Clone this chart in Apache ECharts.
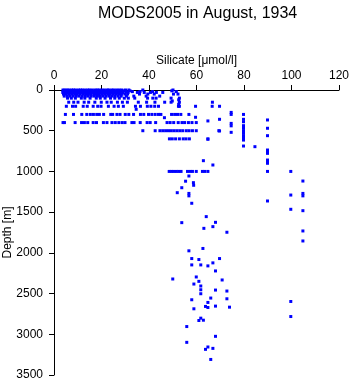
<!DOCTYPE html>
<html>
<head>
<meta charset="utf-8">
<script src="https://cdn.jsdelivr.net/npm/echarts@6/dist/echarts.min.js"></script>
<style>
  html, body { margin: 0; padding: 0; background: #fff; }
  #main { width: 351px; height: 384px; }
</style>
</head>
<body>
<div id="main"></div>
<script>
// silicate values
const si0 = [3.8, 4.6, 5.5, 6.3, 7.4, 8.2, 9.1, 10.3, 11.2, 12.0, 13.1, 14.2, 15.0, 16.1, 17.3, 18.2, 19.0, 20.1, 21.2, 22.4, 23.1, 24.3, 25.2, 26.4, 27.5, 28.6, 30.1, 31.5, 37.4, 50.1];
const si10 = [3.9, 5.1, 6.0, 7.2, 8.5, 9.6, 10.8, 11.7, 12.9, 13.8, 15.3, 16.4, 17.6, 18.8, 19.7, 21.0, 22.2, 23.5, 24.6, 25.8, 26.9, 28.1, 29.3, 32.0, 49.6];
const si20 = [4.2, 5.3, 6.6, 7.8, 8.8, 10.0, 11.1, 12.4, 13.5, 14.7, 15.8, 16.9, 18.1, 19.4, 20.5, 21.7, 22.8, 24.0, 25.1, 26.2, 27.3, 28.9, 30.4, 33.0, 36.2, 41.5, 51.5];
const si30 = [3.7, 4.9, 6.1, 7.0, 8.0, 9.3, 10.5, 11.6, 12.6, 13.9, 15.1, 16.2, 17.4, 18.5, 19.6, 20.8, 21.9, 23.0, 24.2, 25.5, 26.6, 27.8, 29.0, 31.2, 35.1, 38.0, 40.6, 43.1, 45.8];
const si50 = [4.0, 5.2, 6.4, 7.5, 8.7, 9.8, 11.0, 12.2, 13.3, 14.5, 15.6, 16.8, 17.9, 19.1, 20.3, 21.4, 22.6, 23.7, 24.9, 26.0, 27.2, 28.4, 29.8, 31.0, 36.0, 39.5, 42.2, 50.3, 52.2];
const si75 = [4.3, 5.6, 6.8, 8.1, 9.4, 10.6, 11.9, 13.2, 14.4, 15.7, 17.0, 18.3, 19.5, 20.7, 22.0, 23.3, 24.5, 25.7, 27.0, 28.3, 30.5, 33.6, 38.8, 44.5];
const si100 = [5.7, 7.3, 9.0, 11.5, 13.0, 15.2, 17.8, 19.5, 21.5, 23.8, 25.6, 27.5, 29.6, 31.3, 34.0, 39.4, 41.6, 43.0, 49.3, 52.8];
const si150 = [6.2, 8.3, 10.1, 12.7, 14.6, 17.2, 19.9, 22.3, 24.1, 26.7, 28.8, 30.9, 35.5, 39.0, 42.5, 46.6, 49.3, 52.8, 66.7];
const si200 = [5.2, 7.8, 9.1, 12.3, 14.0, 16.5, 18.4, 19.8, 22.9, 25.3, 27.1, 29.2, 34.3, 36.4, 39.3, 40.8, 42.4, 44.0, 52.4, 52.8, 59.6, 66.6, 69.7];
const si300 = [4.8, 8.2, 11.7, 13.8, 15.3, 16.6, 18.0, 19.1, 20.9, 23.9, 24.7, 26.5, 27.8, 30.0, 31.5, 33.5, 36.4, 37.8, 39.8, 41.2, 42.6, 44.0, 45.0, 49.5, 50.8, 52.0, 53.4, 56.8, 79.8];
const si400 = [3.8, 4.4, 8.9, 11.6, 12.8, 14.2, 16.5, 17.9, 20.8, 22.3, 24.4, 25.8, 27.3, 28.7, 29.9, 32.8, 33.7, 36.3, 39.2, 40.5, 42.8, 47.6, 48.9, 50.4, 52.3, 53.9, 55.0, 56.6, 58.1, 59.9];
const si500 = [37.4, 42.6, 44.6, 45.8, 47.0, 48.2, 49.4, 50.6, 51.8, 53.0, 54.2, 55.7, 56.9, 58.3, 59.9, 69.4];
const si600 = [48.6, 49.8, 51.2, 52.8, 54.4, 55.6, 57.0, 64.8];
const si1000 = [48.5, 49.5, 50.5, 51.5, 52.5, 53.5, 56.2, 57.3, 58.3, 59.9, 62.5, 63.5, 64.8, 89.9, 99.7];

const rowDepths = [0, 10, 20, 30, 50, 75, 100, 150, 200, 300, 400, 500, 600, 1000];
const rowValues = [si0, si10, si20, si30, si50, si75, si100, si150, si200, si300, si400, si500, si600, si1000];

// other casts: [silicate, depth]
const otherPoints = [
  [49.8, 135], [52.5, 120], [52.5, 175], [34.6, 237], [46.5, 340], [59.6, 335], [69.7, 360], [64.8, 380],
  [74.6, 275], [74.6, 300], [79.8, 360], [79.8, 390], [74.6, 410], [74.6, 440], [89.9, 368],
  [79.8, 438], [79.8, 470], [79.8, 500], [79.8, 530], [79.8, 560], [79.8, 590], [79.8, 615],
  [69.7, 503], [74.6, 520], [89.9, 470], [89.9, 561], [79.8, 688], [84.6, 696],
  [89.9, 737], [89.9, 758], [89.9, 778], [89.9, 860], [89.9, 880], [89.9, 900], [89.9, 1363],
  [62.9, 868], [66.9, 921], [64.8, 605],
  [56.8, 1056], [55.4, 1120], [58.7, 1138], [58.8, 1170], [53.8, 1200], [51.9, 1261],
  [56.8, 1270], [56.8, 1300], [58.0, 1391],
  [99.7, 1290], [99.7, 1465], [99.7, 2597], [99.7, 2782],
  [104.8, 1118], [104.8, 1270], [104.8, 1300], [104.8, 1482], [104.8, 1731], [104.8, 1854],
  [64.1, 1555], [68.0, 1625], [53.8, 1629], [66.9, 1678], [63.1, 1699], [72.8, 1747],
  [56.8, 1975], [62.7, 1946], [58.0, 2070], [61.0, 2082], [69.7, 2070], [58.0, 2148],
  [61.8, 2148], [64.8, 2160], [66.9, 2123], [68.0, 2222], [50.0, 2321], [59.9, 2296],
  [61.0, 2350], [70.8, 2333], [58.9, 2383], [61.8, 2407], [61.8, 2453], [61.8, 2502],
  [68.0, 2457], [72.8, 2469], [58.0, 2576], [66.0, 2555], [72.8, 2564], [64.8, 2609],
  [63.8, 2658], [64.8, 2671], [68.0, 2654], [73.9, 2667], [58.9, 2687], [61.8, 2802],
  [61.0, 2831], [62.9, 2827], [55.9, 2905], [68.0, 3025], [55.9, 3099], [63.8, 3185],
  [64.8, 3156], [66.9, 3173], [66.0, 3309]
];

const xTicks = [0, 20, 40, 60, 80, 100, 120];
const yTicks = [0, 500, 1000, 1500, 2000, 2500, 3000, 3500];

const points = [];
rowDepths.forEach((d, i) => rowValues[i].forEach(s => points.push([s, d])));
otherPoints.forEach(p => points.push(p));

const chart = echarts.init(document.getElementById('main'));
const font = 'Liberation Sans, Arial, sans-serif';

chart.setOption({
  animation: false,
  backgroundColor: '#fff',
  title: {
    text: 'MODS2005 in August, 1934',
    left: 93,
    top: 1,
    textStyle: { fontFamily: font, fontSize: 16, fontWeight: 'normal', color: '#000' }
  },
  grid: { left: 54, top: 90, width: 285, height: 285, containLabel: false, outerBoundsMode: 'none' },
  xAxis: {
    type: 'value',
    position: 'top',
    min: xTicks[0],
    max: xTicks[xTicks.length - 1],
    interval: 20,
    name: 'Silicate [μmol/l]',
    nameLocation: 'middle',
    nameGap: 23,
    nameMoveOverlap: false,
    nameTextStyle: { fontFamily: font, fontSize: 12, color: '#000' },
    axisLine: { onZero: false, lineStyle: { color: '#000', width: 1 } },
    axisTick: { length: 5, lineStyle: { color: '#000' } },
    axisLabel: { fontFamily: font, fontSize: 12, color: '#000', margin: 8 },
    splitLine: { show: false }
  },
  yAxis: {
    type: 'value',
    inverse: true,
    min: yTicks[0],
    max: yTicks[yTicks.length - 1],
    interval: 500,
    name: 'Depth [m]',
    nameLocation: 'middle',
    nameGap: 40,
    nameMoveOverlap: false,
    nameTextStyle: { fontFamily: font, fontSize: 12, color: '#000' },
    axisLine: { show: true, onZero: false, lineStyle: { color: '#000', width: 1 } },
    axisTick: { show: true, length: 5, lineStyle: { color: '#000' } },
    axisLabel: { fontFamily: font, fontSize: 12, color: '#000', margin: 11, formatter: v => String(v) },
    splitLine: { show: false }
  },
  series: [{
    type: 'scatter',
    data: points,
    symbol: 'rect',
    symbolSize: 3,
    itemStyle: { color: '#0000ff', opacity: 1 }
  }]
});
</script>
</body>
</html>
